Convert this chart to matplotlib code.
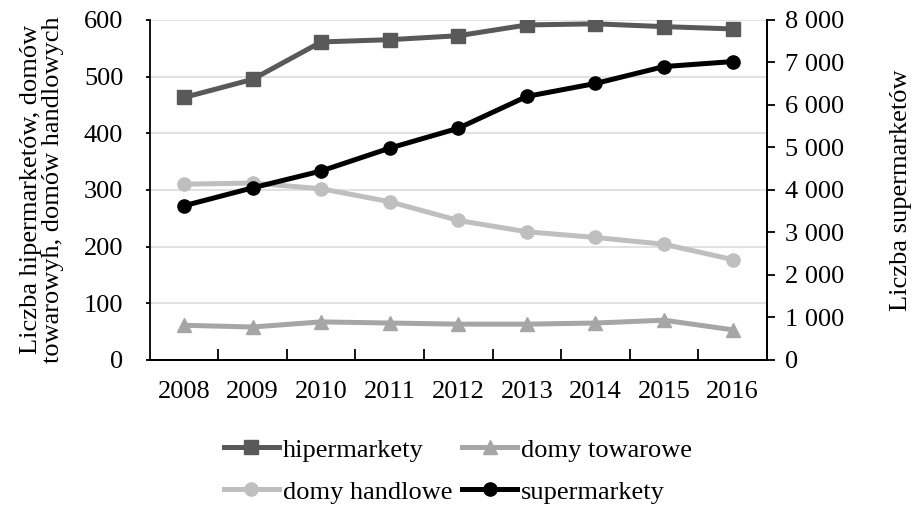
import numpy as np
import matplotlib
matplotlib.use("Agg")
import matplotlib.pyplot as plt
from matplotlib.ticker import FuncFormatter, FixedLocator

plt.rcParams["font.family"] = ["Liberation Serif", "DejaVu Serif"]

# Dane
years = ["2008", "2009", "2010", "2011", "2012", "2013", "2014", "2015", "2016"]
hipermarkety = [463, 495, 561, 565, 572, 591, 593, 588, 584]
domy_towarowe = [61, 58, 67, 65, 63, 63, 65, 70, 53]
domy_handlowe = [310, 312, 302, 279, 246, 226, 216, 204, 177]
supermarkety = [3626, 4047, 4444, 4982, 5450, 6199, 6503, 6901, 7018]

x = np.arange(len(years))
fs = 19

fig = plt.figure(figsize=(9.13, 5.09), dpi=100)
ax = fig.add_axes([0.164, 0.293, 0.676, 0.668])
ax2 = ax.twinx()

lw = 3.6
ms = 9.5
h1, = ax.plot(x, hipermarkety, color="#595959", marker="s", lw=lw, ms=ms, label="hipermarkety")
h2, = ax.plot(x, domy_towarowe, color="#a6a6a6", marker="^", lw=lw, ms=ms, label="domy towarowe")
h3, = ax.plot(x, domy_handlowe, color="#bfbfbf", marker="o", lw=lw, ms=ms, label="domy handlowe")
h4, = ax2.plot(x, supermarkety, color="black", marker="o", lw=lw, ms=ms, label="supermarkety")

ax.set_xlim(-0.5, len(years) - 0.5)
ax.set_ylim(0, 600)
ax.set_yticks(range(0, 601, 100))
ax2.set_ylim(0, 8000)
ax2.set_yticks(range(0, 8001, 1000))
ax2.yaxis.set_major_formatter(FuncFormatter(lambda v, p: f"{int(v):,}".replace(",", " ")))
ax.set_xticks(x, years)
# kreski miedzy kategoriami
ax.xaxis.set_minor_locator(FixedLocator(np.arange(0.5, len(years) - 1, 1)))

ax.grid(axis="y", color="#dcdcdc", lw=1.2)
ax.set_axisbelow(True)

for a in (ax, ax2):
    a.spines["top"].set_visible(False)
    for s in a.spines.values():
        s.set_linewidth(1.3)
ax.tick_params(axis="y", labelsize=fs, width=1.3, length=3, pad=16)
ax2.tick_params(axis="y", labelsize=fs, width=1.3, length=6, pad=7)
ax.tick_params(axis="x", which="major", labelsize=fs, length=0, pad=15)
ax.tick_params(axis="x", which="minor", direction="in", length=8, width=1.3)
ax2.spines["left"].set_visible(False)

ax.set_ylabel("Liczba hipermarketów, domów\ntowarowyh, domów handlowych", fontsize=fs, labelpad=14, linespacing=1.0)
ax2.set_ylabel("Liczba supermarketów", fontsize=fs, labelpad=33)

fig.legend(handles=[h1, h3, h2, h4], ncol=2, loc="center left", bbox_to_anchor=(0.245, 0.075),
           frameon=False, fontsize=fs, handlelength=2.1, handletextpad=0.15,
           columnspacing=0.35, labelspacing=0.7, borderpad=0, borderaxespad=0)

fig.savefig("out.png", dpi=100)
